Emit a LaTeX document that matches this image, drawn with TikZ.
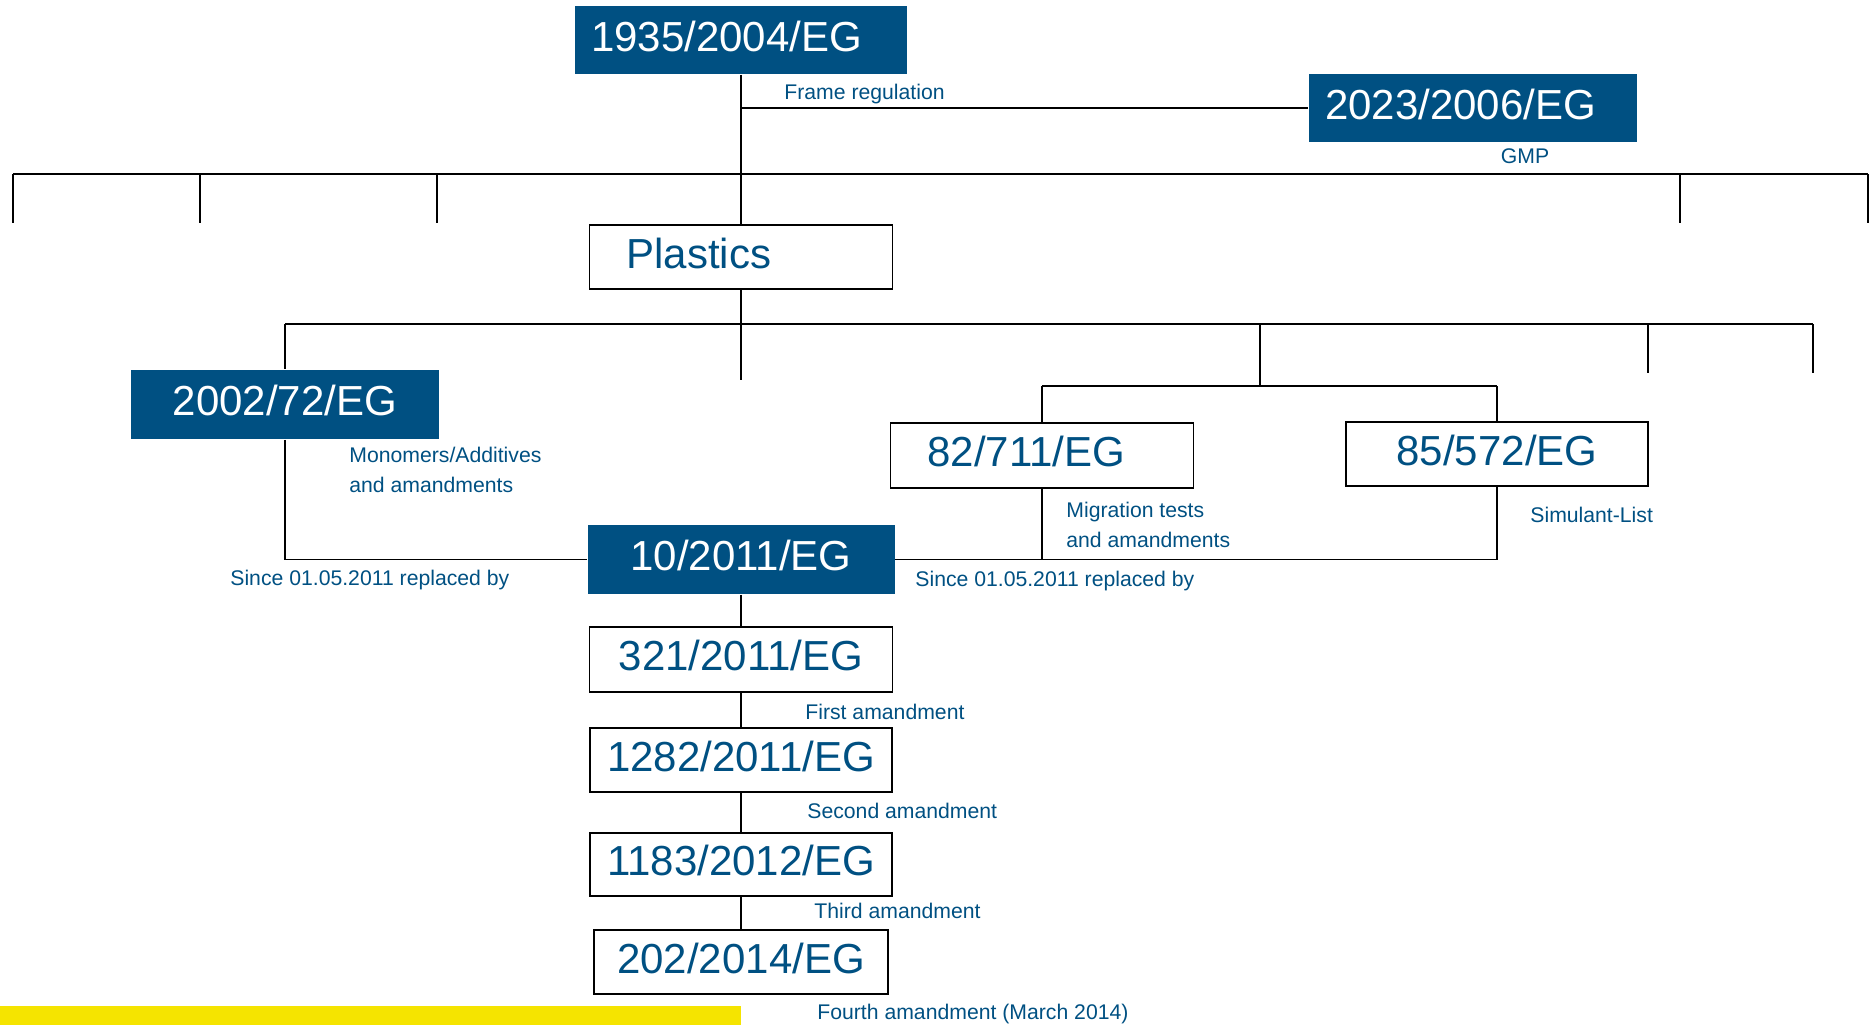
\documentclass[tikz,border=0pt]{standalone}
\usepackage{fontspec}
\setmainfont{Liberation Sans}
\definecolor{regblue}{RGB}{0,80,130}
\definecolor{baryellow}{RGB}{245,228,0}
\begin{document}
\begin{tikzpicture}[x=0.5pt, y=-0.5pt,
    reg/.style={draw, line width=0.9pt, text=regblue, inner sep=0pt,
      text height=15pt, text depth=4pt, font=\fontsize{21}{21}\selectfont},
    regfill/.style={reg, draw=none, fill=regblue, text=white},
    note/.style={text=regblue, anchor=base west, inner sep=0pt,
      font=\fontsize{10.6}{15}\selectfont},
    link/.style={line width=0.7pt},
    rail/.style={line width=0.9pt}]
  \useasboundingbox (0,0) rectangle (1874,1025);
  \fill[baryellow] (0,1006) rectangle (741,1025);

  % regulations
  \node[regfill, minimum height=34pt, text width=150pt, inner xsep=8pt, align=left] (frame) at (741,40) {1935/2004/EG};
  \node[regfill, minimum height=34pt, text width=148pt, inner xsep=8pt, align=left] (gmp) at (1473,108) {2023/2006/EG};
  \node[reg, minimum height=32pt, text width=114.5pt, inner xsep=18.5pt, align=left] (plastics) at (741,257) {Plastics};
  \node[regfill, minimum width=154pt, minimum height=34.5pt] (mono) at (285,404.5) {2002/72/EG};
  \node[reg, minimum height=32.5pt, text width=114.5pt, inner xsep=18.5pt, align=left] (migr) at (1042,455.5) {82/711/EG};
  \node[reg, minimum width=151pt, minimum height=32pt] (simul) at (1497,454) {85/572/EG};
  \node[regfill, minimum width=153.5pt, minimum height=34.5pt] (plim) at (741,559.5) {10/2011/EG};
  \node[reg, minimum width=151.5pt, minimum height=32.5pt] (amendA) at (741,659.5) {321/2011/EG};
  \node[reg, minimum width=151pt, minimum height=32pt] (amendB) at (741,760) {1282/2011/EG};
  \node[reg, minimum width=151pt, minimum height=31.5pt] (amendC) at (741,864.5) {1183/2012/EG};
  \node[reg, minimum width=147pt, minimum height=32pt] (amendD) at (741,962) {202/2014/EG};

  % labels
  \node[note] (frameNote) at (784,99) {Frame regulation};
  \node[note, anchor=base] (gmpNote) at (1525,163) {GMP};
  \node[note, anchor=north west, align=left] (monoNote) at (349,447) {Monomers/Additives\\and amandments};
  \node[note] (sinceL) at (230,585) {Since 01.05.2011 replaced by};
  \node[note] (sinceR) at (915,586) {Since 01.05.2011 replaced by};
  \node[note, anchor=north west, align=left] (migrNote) at (1066,502) {Migration tests\\and amandments};
  \node[note] (simulNote) at (1530,522) {Simulant-List};
  \node[note] (noteA) at (805,719) {First amandment};
  \node[note] (noteB) at (807,818) {Second amandment};
  \node[note] (noteC) at (814,918) {Third amandment};
  \node[note] (noteD) at (817,1019) {Fourth amandment (March 2014)};

  % rails
  \coordinate (railL) at (13,174);
  \coordinate (railR) at (1868,174);
  \coordinate (subL) at (285,324);
  \coordinate (subR) at (1813,324);
  \coordinate (plEnd) at (741,380);
  \coordinate (subMid) at (1260,324);
  \coordinate (testRail) at (1260,386);
  \draw[line width=1.1pt] (railL) -- (railR);
  \foreach \x [count=\i] in {13,200,437,1680,1868} {
    \coordinate (dropTop\i) at (\x,174);
    \coordinate (dropEnd\i) at (\x,223);
    \draw[link] (dropTop\i) -- (dropEnd\i);
  }
  \draw[rail] (subL) -- (subR);
  \foreach \x [count=\i] in {1648,1813} {
    \coordinate (subTop\i) at (\x,324);
    \coordinate (subEnd\i) at (\x,373);
    \draw[link] (subTop\i) -- (subEnd\i);
  }
  \draw[rail] (migr.north |- testRail) -- (simul.north |- testRail);

  % connectors
  \draw[link] (frame.south) -- (plastics.north);
  \draw[rail] (frame.south |- gmp.west) -- (gmp.west);
  \draw[link] (plastics.south) -- (plEnd);
  \draw[link] (subL) -- (mono.north);
  \draw[link] (subMid) -- (testRail);
  \draw[link] (migr.north |- testRail) -- (migr.north);
  \draw[link] (simul.north |- testRail) -- (simul.north);
  \draw[link] (mono.south) |- (plim.west);
  \draw[link] (plim.east) -| (simul.south);
  \draw[link] (migr.south) -- (migr.south |- plim.east);
  \draw[link] (plim) -- (amendA);
  \draw[link] (amendA) -- (amendB);
  \draw[link] (amendB) -- (amendC);
  \draw[link] (amendC) -- (amendD);
\end{tikzpicture}
\end{document}
